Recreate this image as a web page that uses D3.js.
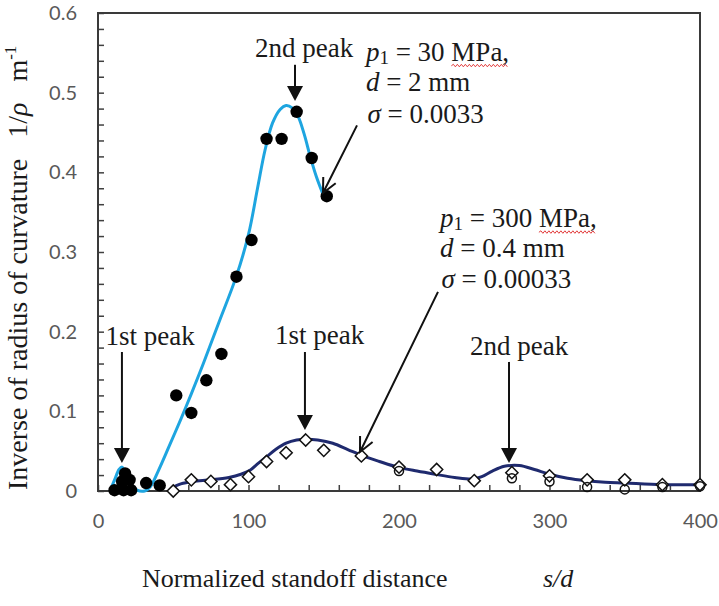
<!DOCTYPE html>
<html>
<head>
<meta charset="utf-8">
<script src="https://cdn.jsdelivr.net/npm/d3@7"></script>
<style>
  body { margin: 0; background: #fff; }
  svg { display: block; }
  .serif { font-family: "Liberation Serif", "Times New Roman", serif; fill: #1a1a1a; white-space: pre; }
</style>
</head>
<body>
<svg id="chart" width="719" height="606"></svg>
<script>
// p1 = 30 MPa, d = 2 mm : measured points (filled dots) and fitted curve
const dots30 = [[11, 0.001], [16, 0.012], [17, 0.001], [18, 0.022], [21, 0.014], [22, 0.001],
  [32, 0.010], [41, 0.007], [52, 0.120], [62, 0.098], [72, 0.139], [82, 0.172], [92, 0.269],
  [102, 0.315], [112, 0.442], [122, 0.442], [132, 0.476], [142, 0.418], [152, 0.370]]
const curve30 = [[8, 0], [11, 0.014], [14, 0.027], [16, 0.030], [19, 0.020], [22, 0.008], [26, 0.001],
  [31, 0], [35, 0.006], [40, 0.025], [47, 0.055], [55, 0.090], [62, 0.122], [70, 0.160], [80, 0.210],
  [92, 0.270], [100, 0.322], [106, 0.380], [111, 0.428], [116, 0.462], [121, 0.479], [125, 0.484],
  [129, 0.481], [133, 0.470], [137, 0.448], [141, 0.420], [145, 0.395], [150, 0.370]]

// p1 = 300 MPa, d = 0.4 mm : open diamonds, open circles and fitted curve
const diamonds300 = [[50, 0.0], [62, 0.014], [75, 0.012], [88, 0.008], [100, 0.018], [112, 0.037],
  [125, 0.048], [138, 0.064], [150, 0.051], [175, 0.044], [200, 0.030], [225, 0.027], [250, 0.013],
  [275, 0.023], [300, 0.019], [325, 0.014], [350, 0.014], [375, 0.008], [400, 0.008]]
const circles300 = [[200, 0.025], [275, 0.016], [300, 0.012], [325, 0.005], [350, 0.002], [375, 0.005], [400, 0.006]]
const curve300 = [[50, 0.005], [55, 0.009], [63, 0.012], [75, 0.014], [87, 0.017], [95, 0.021], [101, 0.026],
  [106, 0.034], [112, 0.043], [118, 0.052], [125, 0.060], [132, 0.064], [138, 0.065], [146, 0.064],
  [156, 0.060], [166, 0.052], [176, 0.044], [187, 0.037], [199, 0.030], [212, 0.025], [224, 0.021],
  [237, 0.017], [249, 0.015], [255, 0.018], [262, 0.025], [270, 0.031], [280, 0.032], [290, 0.027],
  [300, 0.021], [312, 0.016], [324, 0.013], [337, 0.011], [350, 0.010], [375, 0.008], [400, 0.008]]

const xTicks = [0, 100, 200, 300, 400]
const yTicks = [0, 0.1, 0.2, 0.3, 0.4, 0.5, 0.6]

// peak arrows: [s/d, from, to]
const arrows = [
  [130.9, 0.535, 0.4895],
  [15.9, 0.1745, 0.035],
  [137.5, 0.1745, 0.0766],
  [273.1, 0.162, 0.035]
]
const labels = [
  ['2nd peak', 104.3, 0.545],
  ['1st peak', 5.0, 0.183],
  ['1st peak', 117.6, 0.1845],
  ['2nd peak', 247.2, 0.1707]
]

const svg = d3.select('#chart')
const m = {left: 98, right: 700, top: 13, bottom: 491}

const x = d3.scaleLinear().domain([0, 400]).range([m.left, m.right])
const y = d3.scaleLinear().domain([0, 0.6]).range([m.bottom, m.top])

// ticks (inward)
svg.append('g')
  .attr('transform', `translate(${m.left},0)`)
  .call(d3.axisLeft(y).tickValues(d3.range(0, 0.6001, 0.02)).tickSize(-6).tickFormat(''))
  .call(g => g.select('.domain').remove())
  .selectAll('line').attr('stroke', '#404040').attr('stroke-width', 1.5)

svg.append('g')
  .attr('transform', `translate(0,${m.bottom})`)
  .call(d3.axisBottom(x).tickValues(d3.range(0, 401, 20)).tickSize(-6).tickFormat(''))
  .call(g => g.select('.domain').remove())
  .selectAll('line').attr('stroke', '#404040').attr('stroke-width', 1.5)

// tick labels
svg.append('g')
  .attr('transform', `translate(${m.left},0)`)
  .call(d3.axisLeft(y).tickValues(yTicks).tickSize(0).tickPadding(21)
    .tickFormat(d => d === 0 ? '0' : d.toFixed(1)))
  .call(g => g.select('.domain').remove())
  .selectAll('text').attr('font-family', 'Lato, sans-serif').attr('font-size', 20).attr('fill', '#595959')

svg.append('g')
  .attr('transform', `translate(0,${m.bottom})`)
  .call(d3.axisBottom(x).tickValues(xTicks).tickSize(0).tickPadding(23))
  .call(g => g.select('.domain').remove())
  .selectAll('text').attr('font-family', 'Lato, sans-serif').attr('font-size', 20).attr('fill', '#595959')

// frame
svg.append('rect')
  .attr('x', m.left).attr('y', m.top)
  .attr('width', m.right - m.left).attr('height', m.bottom - m.top)
  .attr('fill', 'none').attr('stroke', '#3a3a3a').attr('stroke-width', 2)

// curves
const line = d3.line().x(d => x(d[0])).y(d => y(d[1])).curve(d3.curveCatmullRom.alpha(0.5))

svg.append('path').datum(curve30)
  .attr('d', line).attr('fill', 'none')
  .attr('stroke', '#1ea5e0').attr('stroke-width', 3)

svg.append('path').datum(curve300)
  .attr('d', line).attr('fill', 'none')
  .attr('stroke', '#1f2a6e').attr('stroke-width', 3)

// markers
svg.append('g').selectAll('path')
  .data(diamonds300)
  .join('path')
  .attr('d', d3.symbol(d3.symbolDiamond2, 95))
  .attr('transform', d => `translate(${x(d[0])},${y(d[1])})`)
  .attr('fill', '#fff').attr('stroke', '#111').attr('stroke-width', 1.5)

svg.append('g').selectAll('circle')
  .data(circles300)
  .join('circle')
  .attr('cx', d => x(d[0])).attr('cy', d => y(d[1])).attr('r', 4.5)
  .attr('fill', 'none').attr('stroke', '#111').attr('stroke-width', 1.5)

svg.append('g').selectAll('circle')
  .data(dots30)
  .join('circle')
  .attr('cx', d => x(d[0])).attr('cy', d => y(d[1])).attr('r', 6.2)
  .attr('fill', '#000')

// annotations
const ann = svg.append('g')

ann.selectAll('text.peak')
  .data(labels)
  .join('text')
  .attr('class', 'serif peak')
  .attr('x', d => x(d[1])).attr('y', d => y(d[2]))
  .attr('font-size', 27)
  .text(d => d[0])

arrows.forEach(([sx, from, to]) => {
  const px = x(sx), y0 = y(from), y1 = y(to)
  ann.append('line')
    .attr('x1', px).attr('x2', px).attr('y1', y0).attr('y2', y1 - 10)
    .attr('stroke', '#111').attr('stroke-width', 2)
  ann.append('path')
    .attr('d', `M${px - 8},${y1 - 15}L${px + 8},${y1 - 15}L${px},${y1}Z`)
    .attr('fill', '#111')
})

// diagonal arrows with open heads: [from s/d, from value, to s/d, to value]
const pointers = [[172.1, 0.459, 149.5, 0.374], [225.9, 0.250, 174.1, 0.049]]
pointers.forEach(([a, b, c, e]) => {
  const x0 = x(a), y0 = y(b), x1 = x(c), y1 = y(e)
  const ang = Math.atan2(y1 - y0, x1 - x0), L = 16, w = 0.45
  ann.append('path')
    .attr('d', `M${x0},${y0}L${x1},${y1}` +
      `M${x1 - L * Math.cos(ang - w)},${y1 - L * Math.sin(ang - w)}L${x1},${y1}` +
      `L${x1 - L * Math.cos(ang + w)},${y1 - L * Math.sin(ang + w)}`)
    .attr('fill', 'none').attr('stroke', '#111').attr('stroke-width', 2)
})

// condition blocks
function block(sx, vals, pressure, dia, sigma) {
  const t1 = ann.append('text').attr('class', 'serif').attr('font-size', 27)
    .attr('x', x(sx)).attr('y', y(vals[0]))
  t1.append('tspan').attr('font-style', 'italic').text('p')
  t1.append('tspan').attr('font-size', 19).attr('dy', 3).text('1')
  t1.append('tspan').attr('dy', -3).text(' = ' + pressure + ' MPa,')
  const node = t1.node(), full = node.textContent, i = full.indexOf('MPa,')
  const p0 = node.getStartPositionOfChar(i), p1 = node.getEndPositionOfChar(i + 3)
  let zig = `M${p0.x},${p0.y + 5}`
  for (let k = p0.x + 2, up = true; k <= p1.x; k += 2, up = !up) zig += `L${k},${p0.y + (up ? 3.5 : 6)}`
  ann.append('path').attr('d', zig).attr('fill', 'none').attr('stroke', '#e23c3c').attr('stroke-width', 1)

  const t2 = ann.append('text').attr('class', 'serif').attr('font-size', 27)
    .attr('x', x(sx)).attr('y', y(vals[1]))
  t2.append('tspan').attr('font-style', 'italic').text('d')
  t2.append('tspan').text(' = ' + dia + ' mm')

  const t3 = ann.append('text').attr('class', 'serif').attr('font-size', 27)
    .attr('x', x(sx + 1)).attr('y', y(vals[2]))
  t3.append('tspan').attr('font-style', 'italic').text('σ')
  t3.append('tspan').text(' = ' + sigma)
}
block(178, [0.540, 0.502, 0.462], '30', '2', '0.0033')
block(227.2, [0.331, 0.294, 0.255], '300', '0.4', '0.00033')

// axis titles
svg.append('text').attr('class', 'serif').attr('font-size', 26)
  .attr('x', 142).attr('y', 587)
  .text('Normalized standoff distance')
svg.append('text').attr('class', 'serif').attr('font-size', 26).attr('font-style', 'italic')
  .attr('x', 543).attr('y', 587).text('s/d')

const yt = svg.append('text').attr('class', 'serif').attr('font-size', 28)
  .attr('transform', 'translate(27,490) rotate(-90)')
yt.append('tspan').text('Inverse of radius of curvature   1/')
yt.append('tspan').attr('font-style', 'italic').text('ρ')
yt.append('tspan').text('   m')
yt.append('tspan').attr('font-size', 17).attr('dy', -11).text('-1')
</script>
</body>
</html>
